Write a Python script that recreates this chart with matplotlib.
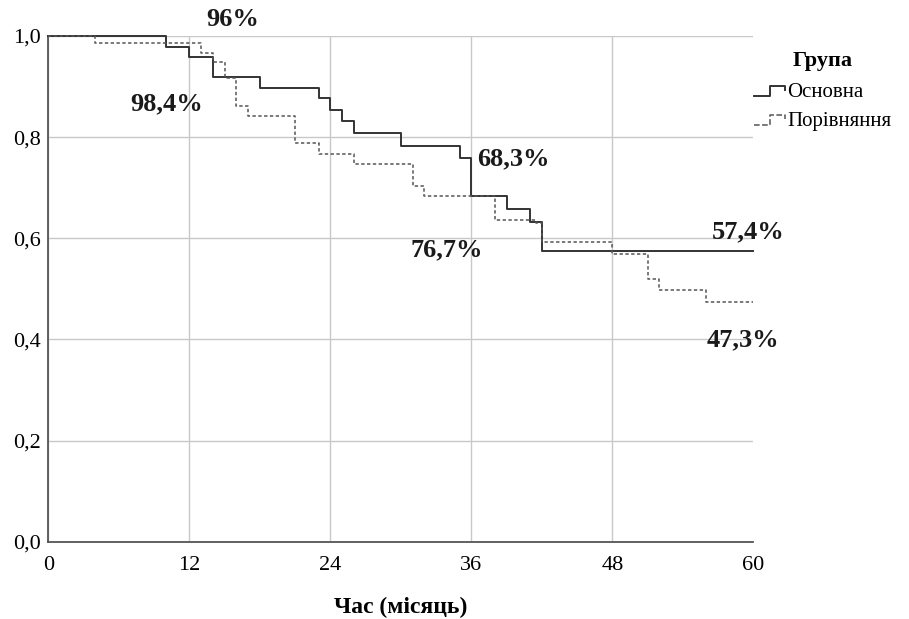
import matplotlib
matplotlib.use("Agg")
import matplotlib.pyplot as plt
from matplotlib.lines import Line2D
from matplotlib.legend_handler import HandlerBase

# ---- data ----
main_t = [0, 10, 12, 14, 18, 23, 24, 25, 26, 30, 35, 36, 39, 41, 42, 60]
main_s = [1.0, 0.979, 0.959, 0.918, 0.897, 0.877, 0.854, 0.831, 0.808, 0.783,
          0.759, 0.683, 0.657, 0.632, 0.574, 0.574]
comp_t = [0, 4, 13, 14, 15, 16, 17, 21, 23, 26, 31, 32, 38, 41.5, 42, 48, 51, 52, 56, 60]
comp_s = [1.0, 0.986, 0.966, 0.949, 0.917, 0.861, 0.841, 0.788, 0.767, 0.747,
          0.704, 0.683, 0.637, 0.630, 0.592, 0.568, 0.520, 0.498, 0.474, 0.474]
group_labels = ["Основна", "Порівняння"]
legend_title = "Група"
x_label = "Час (місяць)"
x_ticks = [0, 12, 24, 36, 48, 60]
y_ticks = [0.0, 0.2, 0.4, 0.6, 0.8, 1.0]
y_tick_labels = ["0,0", "0,2", "0,4", "0,6", "0,8", "1,0"]
ann_text = ["96%", "98,4%", "68,3%", "76,7%", "57,4%", "47,3%"]
ann_x = [15.7, 10.1, 39.6, 33.9, 59.55, 59.1]
ann_y = [1.032, 0.866, 0.758, 0.577, 0.612, 0.399]

plt.rcParams['font.family'] = ['Liberation Serif', 'DejaVu Serif']

fig = plt.figure(figsize=(9.09, 6.19), dpi=100)
ax = fig.add_axes([48.3 / 909, 1 - 541.7 / 619, (753.3 - 48.3) / 909, (541.7 - 36) / 619])

solid_col = "#333333"
dash_col = "#555555"
ln1, = ax.step(main_t, main_s, where="post", color=solid_col, lw=1.4, clip_on=False, zorder=3)
ln2, = ax.step(comp_t, comp_s, where="post", color=dash_col, lw=1.1, clip_on=False,
               linestyle=(0, (2.2, 1.6)), zorder=3)

ax.set_xlim(0, 60)
ax.set_ylim(0, 1.0)
ax.set_xticks(x_ticks)
ax.set_xticklabels([str(v) for v in x_ticks], fontsize=16)
ax.set_yticks(y_ticks)
ax.set_yticklabels(y_tick_labels, fontsize=16)
ax.tick_params(axis="x", length=0, pad=10)
ax.tick_params(axis="y", length=0, pad=5)
ax.grid(True, color="#c8c8c8", lw=1.0)
ax.set_axisbelow(True)
for s in ["top", "right"]:
    ax.spines[s].set_visible(False)
for s in ["left", "bottom"]:
    ax.spines[s].set_color("#555555")
    ax.spines[s].set_linewidth(1.3)
# no vertical gridline at 60 in the reference
ax.get_xgridlines()[-1].set_visible(False)

ax.set_xlabel(x_label, fontsize=17, fontweight="bold", labelpad=16)

for t, x, y in zip(ann_text, ann_x, ann_y):
    ax.text(x, y, t, ha="center", va="center", fontsize=19, fontweight="bold",
            color="#1a1a1a", clip_on=False)


class StepHandler(HandlerBase):
    def create_artists(self, legend, orig_handle, xdescent, ydescent, width, height, fontsize, trans):
        fx = [0, 0.5, 0.5, 1.0, 1.0]
        fy = [0.05, 0.05, 0.75, 0.75, 0.45]
        xs = [f * width - xdescent for f in fx]
        ys = [f * height - ydescent for f in fy]
        l = Line2D(xs, ys, color=orig_handle.get_color(), lw=orig_handle.get_linewidth(),
                   linestyle=orig_handle.get_linestyle())
        l.set_transform(trans)
        return [l]


leg = fig.legend([ln1, ln2], group_labels, title=legend_title, loc="upper left",
                 bbox_to_anchor=(752 / 909, 1 - 49 / 619), frameon=False, fontsize=15,
                 title_fontproperties={"weight": "bold", "size": 16},
                 handler_map={Line2D: StepHandler()}, handlelength=1.5, handletextpad=0.1,
                 labelspacing=0.45, borderpad=0.1, borderaxespad=0)
leg._legend_box.sep = 8

fig.savefig("out.png", dpi=100)
